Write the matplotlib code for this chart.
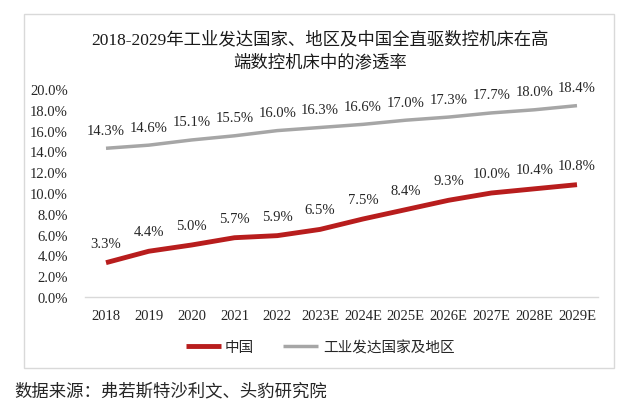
import matplotlib
matplotlib.use("Agg")
import matplotlib.pyplot as plt
from matplotlib.patches import Rectangle

categories = ["2018", "2019", "2020", "2021", "2022", "2023E", "2024E",
              "2025E", "2026E", "2027E", "2028E", "2029E"]
china = [3.3, 4.4, 5.0, 5.7, 5.9, 6.5, 7.5, 8.4, 9.3, 10.0, 10.4, 10.8]
developed = [14.3, 14.6, 15.1, 15.5, 16.0, 16.3, 16.6, 17.0, 17.3, 17.7, 18.0, 18.4]
yticks = [0, 2, 4, 6, 8, 10, 12, 14, 16, 18, 20]

SERIF = ["Liberation Serif", "Noto Sans CJK SC"]
CJK = ["Noto Sans CJK SC", "DejaVu Sans"]

W, H = 640, 402
fig = plt.figure(figsize=(W / 100, H / 100), dpi=100)

# outer border box
fig.patches.append(Rectangle((24 / W, 1 - 369 / H), (614 - 24) / W, (369 - 15) / H,
                             transform=fig.transFigure, fill=False,
                             edgecolor="#D9D9D9", linewidth=1.0))

ax = fig.add_axes([84.6 / W, 1 - 298 / H, (598.4 - 84.6) / W, (298 - 90) / H])
x = list(range(len(categories)))
red = "#B81D1D"
gray = "#A6A6A6"
ax.plot(x, china, color=red, linewidth=3.5, solid_capstyle="butt", label="中国")
ax.plot(x, developed, color=gray, linewidth=2.5, solid_capstyle="butt", label="工业发达国家及地区")

for xi, v in zip(x, china):
    ax.annotate(f"{v:.1f}%", (xi, v), xytext=(0, 14), textcoords="offset points",
                ha="center", va="center", fontsize=10.5, family=SERIF, color="#262626")
for xi, v in zip(x, developed):
    ax.annotate(f"{v:.1f}%", (xi, v), xytext=(0, 13), textcoords="offset points",
                ha="center", va="center", fontsize=10.5, family=SERIF, color="#262626")

ax.set_xlim(-0.5, len(categories) - 0.5)
ax.set_ylim(0, 20)
ax.set_yticks(yticks)
ax.set_yticklabels([f"{t:.1f}%" for t in yticks], family=SERIF, fontsize=10.5, color="#262626")
ax.set_xticks(x)
ax.set_xticklabels(categories, family=SERIF, fontsize=10.5, color="#262626")
ax.tick_params(axis="both", length=0)
ax.tick_params(axis="y", pad=12)
ax.tick_params(axis="x", pad=9)
for s in ["top", "right", "left"]:
    ax.spines[s].set_visible(False)
ax.spines["bottom"].set_color("#D9D9D9")
ax.spines["bottom"].set_linewidth(1.0)
for l in ax.lines:
    l.set_clip_on(False)

fig.text(320 / W, 1 - 40 / H, "2018-2029年工业发达国家、地区及中国全直驱数控机床在高",
         ha="center", va="center", fontsize=12.5, family=SERIF, color="#1a1a1a")
fig.text(320 / W, 1 - 63 / H, "端数控机床中的渗透率",
         ha="center", va="center", fontsize=12.5, family=SERIF, color="#1a1a1a")

leg = fig.legend(loc="center", bbox_to_anchor=(320 / W, 1 - 348 / H), ncol=2, frameon=False,
                 prop={"family": CJK, "size": 10.5}, handlelength=2.4, columnspacing=2.0,
                 handletextpad=0.3)
for t in leg.get_texts():
    t.set_color("#262626")

fig.text(14 / W, 1 - 391 / H, "数据来源：弗若斯特沙利文、头豹研究院",
         ha="left", va="center", fontsize=12.5, family=CJK, color="#262626")

fig.savefig("out.png", dpi=100, facecolor="white")
